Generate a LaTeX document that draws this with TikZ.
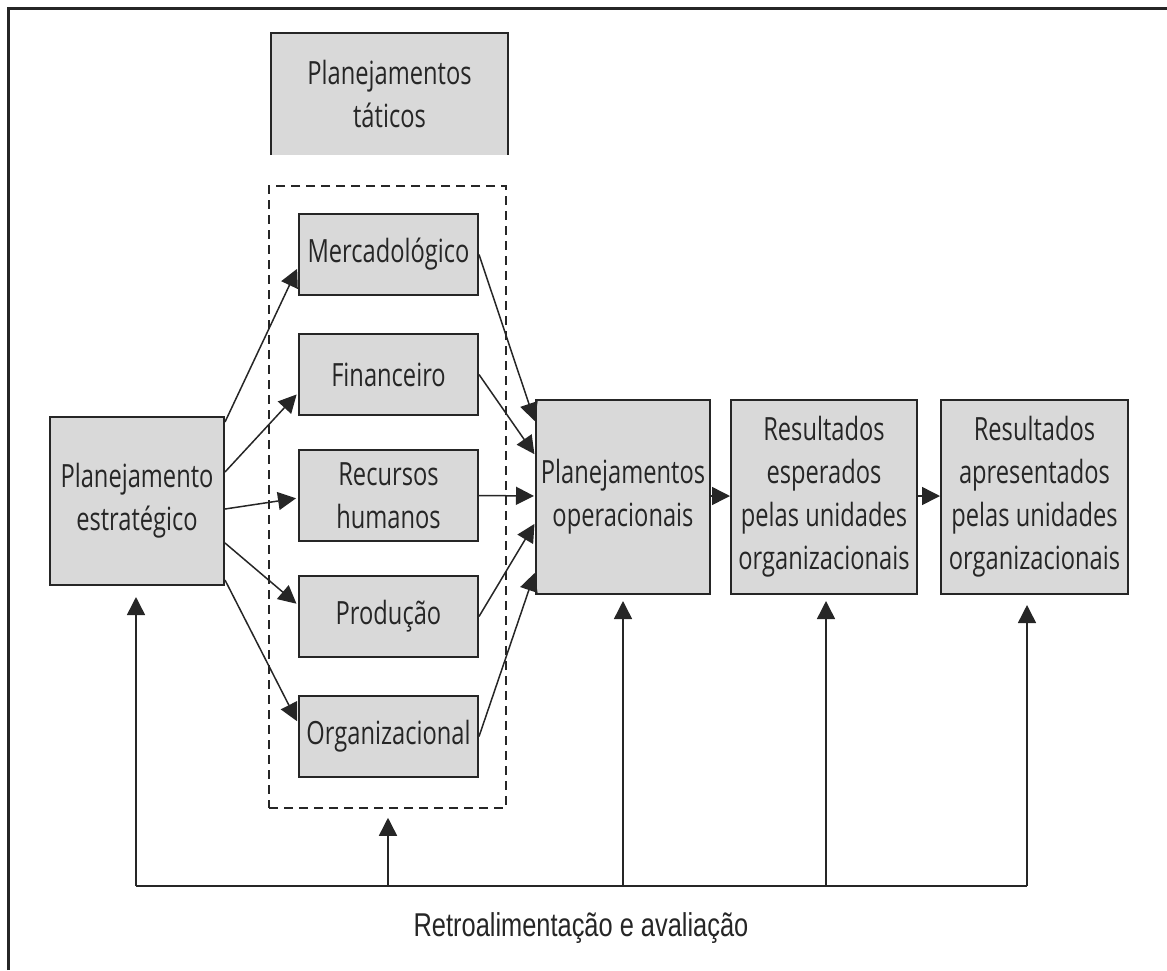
\documentclass[tikz,border=0pt]{standalone}
\usepackage{fontspec}
\setmainfont{Open Sans}[FakeStretch=0.74]
\newfontfamily\narrowfont{Liberation Sans}[FakeStretch=0.77]
\usetikzlibrary{arrows.meta,calc}
\definecolor{boxfill}{HTML}{D9D9D9}
\definecolor{ink}{HTML}{262626}
\begin{document}
\begin{tikzpicture}[x=1pt,y=-1pt,
  box/.style={draw=ink, line width=2pt, fill=boxfill, inner sep=0pt, align=center, text=ink, font=\fontsize{32}{43}\selectfont},
  arr/.style={draw=ink, line width=1.5pt, -{Triangle[length=18pt,width=18pt]}},
  ]
\useasboundingbox (0,0) rectangle (1167,970);
\draw[ink, line width=3pt] (8,970) -- (8,8) -- (1167,8);

% tactical title box (open at the bottom)
\node[fill=boxfill, minimum width=237pt, minimum height=122pt, inner sep=0pt, align=center, text=ink, font=\fontsize{32}{43}\selectfont] (tat) at (389.5,94) {Planejamentos\\táticos};
\draw[ink, line width=2pt] (tat.south west) -- (tat.north west) -- (tat.north east) -- (tat.south east);

% dashed group
\node[draw=ink, line width=1.5pt, dash pattern=on 9pt off 6pt, minimum width=237pt, minimum height=622pt, inner sep=0pt] (grp) at (387.5,497) {};

% boxes
\node[box, minimum width=174pt, minimum height=168pt] (est) at (137,501) {Planejamento\\estratégico};
\node[box, minimum width=179pt, minimum height=81pt] (merc) at (388.5,254.5) {Mercadológico};
\node[box, minimum width=179pt, minimum height=81pt] (fin) at (388.5,374.5) {Financeiro};
\node[box, minimum width=179pt, minimum height=91pt] (rec) at (388.5,495.5) {Recursos\\humanos};
\node[box, minimum width=179pt, minimum height=81pt] (prod) at (388.5,616.5) {Produção};
\node[box, minimum width=179pt, minimum height=81pt] (org) at (388.5,736.5) {Organizacional};
\node[box, minimum width=174pt, minimum height=194pt] (op) at (623,497) {Planejamentos\\operacionais};
\node[box, minimum width=186pt, minimum height=194pt] (esp) at (824,497) {Resultados\\esperados\\pelas unidades\\organizacionais};
\node[box, minimum width=187pt, minimum height=194pt] (apr) at (1034.5,497) {Resultados\\apresentados\\pelas unidades\\organizacionais};

% strategic -> tactical
\draw[arr, shorten >=2pt] ([yshift=79pt]est.east) -- ([yshift=-12.5pt]merc.west);
\draw[arr, shorten >=2pt] ([yshift=29pt]est.east) -- ([yshift=-18.5pt]fin.west);
\draw[arr, shorten >=2pt] ([yshift=-8pt]est.east) -- ([yshift=-2.5pt]rec.west);
\draw[arr, shorten >=2pt] ([yshift=-42pt]est.east) -- ([yshift=11.5pt]prod.west);
\draw[arr, shorten >=2pt] ([yshift=-79pt]est.east) -- ([yshift=13.5pt]org.west);

% tactical -> operational
\draw[arr, shorten >=1pt] (merc.east) -- ([yshift=75pt]op.west);
\draw[arr, shorten >=1pt] (fin.east) -- ([yshift=42pt]op.west);
\draw[arr, shorten >=1pt] (rec.east) -- ([yshift=1pt]op.west);
\draw[arr, shorten >=1pt] (prod.east) -- ([yshift=-26pt]op.west);
\draw[arr, shorten >=1pt] (org.east) -- ([yshift=-75pt]op.west);

% chain
\draw[arr] ([yshift=1pt]op.east) -- ([yshift=1pt]esp.west);
\draw[arr] ([yshift=1pt]esp.east) -- ([yshift=1pt]apr.west);

% feedback
\coordinate (f1) at (136,886);
\coordinate (f2) at (388,886);
\coordinate (f3) at (623,886);
\coordinate (f4) at (826,886);
\coordinate (f5) at (1027,886);
\draw[ink, line width=1.8pt] (f1) -- (f5);
\draw[arr, shorten >=11pt] (f1) -- (f1 |- est.south);
\draw[arr, shorten >=9pt] (f2) -- (f2 |- grp.south);
\draw[arr, shorten >=6pt] (f3) -- (f3 |- op.south);
\draw[arr, shorten >=6pt] (f4) -- (f4 |- esp.south);
\draw[arr, shorten >=10pt] (f5) -- (f5 |- apr.south);

\node[font=\narrowfont\fontsize{33}{38}\selectfont, text=ink] (lbl) at (581,928) {Retroalimentação e avaliação};
\end{tikzpicture}
\end{document}
